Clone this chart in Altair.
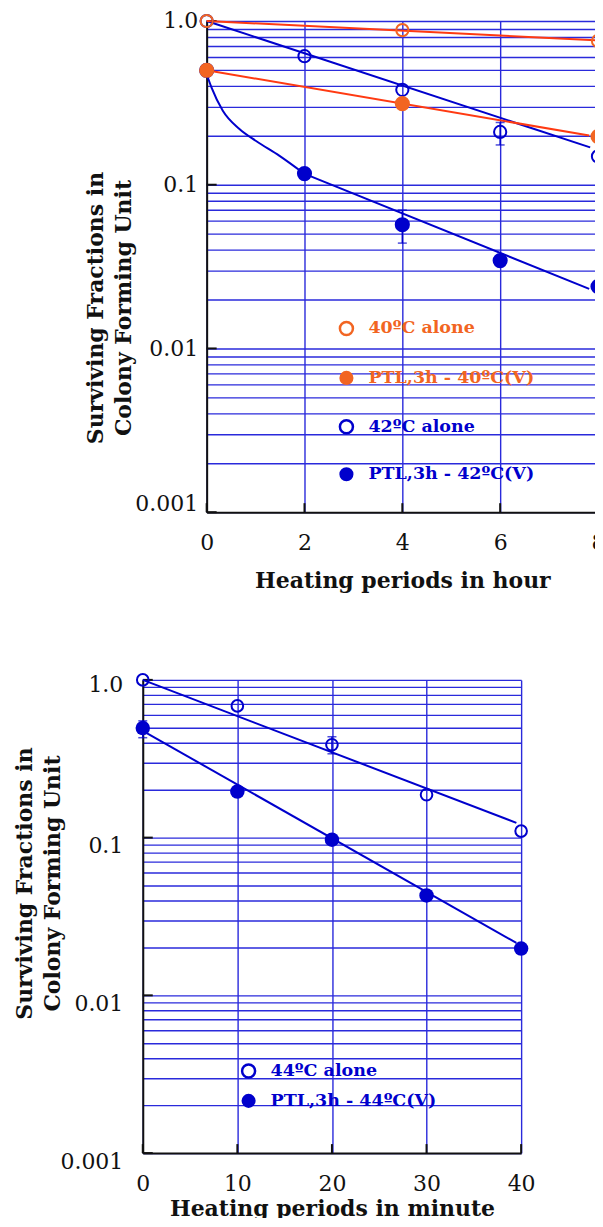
import altair as alt
import pandas as pd

FONT = "DejaVu Serif"
ORANGE = "#F26522"
ORANGE_LINE = "#FF3A12"
BLUE = "#0000CC"
GRID = "#2A2ADB"
BLACK = "#111111"

# ---------------- top panel data (hours) ----------------
top_x_40 = [0, 4, 8]
top_y_40_alone = [1.0, 0.88, 0.755]
top_y_40_ptl = [0.5, 0.313, 0.197]
top_x_42 = [0, 2, 4, 6, 8]
top_y_42_alone = [1.0, 0.61, 0.38, 0.21, 0.149]
top_y_42_ptl = [0.5, 0.117, 0.057, 0.0344, 0.0239]
top_err_x = [6, 4]
top_err_lo = [0.175, 0.044]
top_err_hi = [0.24, 0.070]

fit40_alone_x = [0, 7.96]
fit40_alone_y = [1.0, 0.763]
fit40_ptl_x = [0, 7.82]
fit40_ptl_y = [0.5, 0.2]
fit42_alone_x = [0, 7.84]
fit42_alone_y = [1.0, 0.169]
fit42_ptl_curve_x = [0, 0.1, 0.33, 0.67, 1.01, 1.49, 1.99]
fit42_ptl_curve_y = [0.473, 0.392, 0.283, 0.219, 0.185, 0.150, 0.117]
fit42_ptl_line_x = [1.99, 7.82]
fit42_ptl_line_y = [0.117, 0.0231]

top_x_ticks = [0, 2, 4, 6, 8]
top_labels = ["40ºC alone", "PTL,3h - 40ºC(V)", "42ºC alone", "PTL,3h - 42ºC(V)"]
top_label_colors = [ORANGE, ORANGE, BLUE, BLUE]
top_label_filled = [False, True, False, True]

# ---------------- bottom panel data (minutes) ----------------
bot_x = [0, 10, 20, 30, 40]
bot_y_alone = [1.0, 0.684, 0.388, 0.187, 0.11]
bot_y_ptl = [0.495, 0.196, 0.097, 0.043, 0.0198]
bot_err_x = [20, 0]
bot_err_lo = [0.34, 0.43]
bot_err_hi = [0.436, 0.55]
fit44_alone_x = [0, 39.5]
fit44_alone_y = [1.0, 0.124]
fit44_ptl_x = [0, 39.5]
fit44_ptl_y = [0.475, 0.0215]
bot_x_ticks = [0, 10, 20, 30, 40]
bot_labels = ["44ºC alone", "PTL,3h - 44ºC(V)"]
bot_label_filled = [False, True]

decades = [0.001, 0.01, 0.1, 1.0]
grid_vals = [m * d for d in decades[:-1] for m in range(1, 10)] + [1.0]

Y_TITLE = ["Surviving Fractions in", "Colony Forming Unit"]
LABEL_EXPR = ("datum.value == 1 ? '1.0' : datum.value == 0.1 ? '0.1' : "
              "datum.value == 0.01 ? '0.01' : datum.value == 0.001 ? '0.001' : ''")


def y_axis(title_x, title_y, label_pad, offset_cond):
    return alt.Axis(
        values=grid_vals, labelExpr=LABEL_EXPR, labelOverlap=False,
        ticks=False, labelPadding=label_pad, labelFont=FONT, labelFontSize=22,
        labelColor=BLACK, labelOffset=offset_cond,
        grid=True, gridColor=GRID, gridWidth=1.4,
        domainColor=BLACK, domainWidth=2,
        title=Y_TITLE, titleFont=FONT, titleFontSize=22, titleFontWeight="bold",
        titleColor=BLACK, titleAngle=270, titleX=title_x, titleY=title_y,
        titleBaseline="middle", titleAlign="center", titleLineHeight=28,
    )


def x_axis(vals, title, label_pad, title_y):
    return alt.Axis(
        values=vals, format="d", ticks=False, labelPadding=label_pad,
        labelFont=FONT, labelFontSize=22, labelColor=BLACK, labelFlush=False,
        grid=True, gridColor=GRID, gridWidth=1.4,
        domainColor=BLACK, domainWidth=2,
        title=title, titleFont=FONT, titleFontSize=22, titleFontWeight="bold",
        titleColor=BLACK, titleY=title_y, titleBaseline="alphabetic",
    )


def df(x, y):
    return pd.DataFrame({"x": x, "y": y})


def build_panel(W, H, xdom, xticks, xtitle, xlab_pad, xtitle_y,
                ytitle_x, ytitle_y, ylab_pad, yoff):
    X = alt.X("x:Q", scale=alt.Scale(domain=xdom, nice=False, zero=False),
              axis=x_axis(xticks, xtitle, xlab_pad, xtitle_y))
    Y = alt.Y("y:Q", scale=alt.Scale(type="log", domain=[0.001, 1.0], nice=False),
              axis=y_axis(ytitle_x, ytitle_y, ylab_pad, yoff))
    yticks = alt.Chart(pd.DataFrame({"y": decades})).mark_rule(
        color=BLACK, strokeWidth=2).encode(y=Y, x=alt.value(0), x2=alt.value(10))
    xt = alt.Chart(pd.DataFrame({"x": xticks})).mark_rule(
        color=BLACK, strokeWidth=2).encode(x=X, y=alt.value(H), y2=alt.value(H - 9))
    return X, Y, [yticks, xt]


def line(X, Y, x, y, color, interp="linear"):
    return alt.Chart(df(x, y)).mark_line(color=color, strokeWidth=2, interpolate=interp).encode(x=X, y=Y)


def pts(X, Y, x, y, color, filled, size):
    if filled:
        m = alt.Chart(df(x, y)).mark_point(filled=True, shape="circle", color=color,
                                           size=size, opacity=1)
    else:
        m = alt.Chart(df(x, y)).mark_point(filled=False, shape="circle", color=color,
                                           size=size, strokeWidth=2, opacity=1)
    return m.encode(x=X, y=Y)


def errbars(X, Y, x, lo, hi, color):
    d = pd.DataFrame({"x": x, "y": lo, "y2": hi})
    rule = alt.Chart(d).mark_rule(color=color, strokeWidth=1.5).encode(
        x=X, y=Y, y2="y2:Q")
    t1 = alt.Chart(d).mark_tick(color=color, orient="horizontal", size=9,
                                thickness=1.5).encode(x=X, y=Y)
    d2 = pd.DataFrame({"x": x, "y": hi})
    t2 = alt.Chart(d2).mark_tick(color=color, orient="horizontal", size=9,
                                 thickness=1.5).encode(x=X, y=Y)
    return [rule, t1, t2]


def legend(entries, colors, filled, cx, tx, ys, size):
    layers = []
    for lab, col, fil, yy in zip(entries, colors, filled, ys):
        d = pd.DataFrame({"label": [lab]})
        if fil:
            p = alt.Chart(d).mark_point(filled=True, shape="circle", color=col,
                                        size=size, opacity=1)
        else:
            p = alt.Chart(d).mark_point(filled=False, shape="circle", color=col,
                                        size=size * 0.85, strokeWidth=2.5, opacity=1)
        layers.append(p.encode(x=alt.value(cx), y=alt.value(yy)))
        layers.append(alt.Chart(d).mark_text(
            align="left", baseline="middle", font=FONT, fontSize=17.5,
            fontWeight="bold", color=col).encode(
            x=alt.value(tx), y=alt.value(yy), text="label:N"))
    return layers


# ---------------- top panel ----------------
TW, TH = 392, 492
Xt, Yt, top_axes = build_panel(
    TW, TH, [0, 8], top_x_ticks, "Heating periods in hour", 20, 75,
    -111, 287, 9,
    alt.condition("datum.value == 0.001", alt.value(-9), alt.value(0)))

top_layers = top_axes + [
    line(Xt, Yt, fit42_alone_x, fit42_alone_y, BLUE),
    line(Xt, Yt, fit42_ptl_curve_x, fit42_ptl_curve_y, BLUE, "monotone"),
    line(Xt, Yt, fit42_ptl_line_x, fit42_ptl_line_y, BLUE),
    line(Xt, Yt, fit40_alone_x, fit40_alone_y, ORANGE_LINE),
    line(Xt, Yt, fit40_ptl_x, fit40_ptl_y, ORANGE_LINE),
] + errbars(Xt, Yt, top_err_x, top_err_lo, top_err_hi, BLUE) + [
    pts(Xt, Yt, top_x_42, top_y_42_alone, BLUE, False, 150),
    pts(Xt, Yt, top_x_42, top_y_42_ptl, BLUE, True, 230),
    pts(Xt, Yt, top_x_40, top_y_40_alone, ORANGE, False, 150),
    pts(Xt, Yt, top_x_40, top_y_40_ptl, ORANGE, True, 230),
] + legend(top_labels, top_label_colors, top_label_filled, 140, 162,
           [308, 357.5, 406.5, 454], 200)

top = alt.layer(*top_layers).properties(width=TW, height=TH)

# ---------------- bottom panel ----------------
BW, BH = 379, 474
Xb, Yb, bot_axes = build_panel(
    BW, BH, [0, 40], bot_x_ticks, "Heating periods in minute", 20, 63,
    -118, 203.5, 20,
    alt.condition("datum.value == 1", alt.value(5), alt.value(8)))

bot_layers = bot_axes + [
    line(Xb, Yb, fit44_alone_x, fit44_alone_y, BLUE),
    line(Xb, Yb, fit44_ptl_x, fit44_ptl_y, BLUE),
] + errbars(Xb, Yb, bot_err_x, bot_err_lo, bot_err_hi, BLUE) + [
    pts(Xb, Yb, bot_x, bot_y_alone, BLUE, False, 135),
    pts(Xb, Yb, bot_x, bot_y_ptl, BLUE, True, 210),
] + legend(bot_labels, [BLUE, BLUE], bot_label_filled, 106, 128,
           [391.7, 421.7], 200)

bottom = alt.layer(*bot_layers).properties(width=BW, height=BH)

spacer = alt.Chart(pd.DataFrame({"s": [0]})).mark_point(opacity=0).encode(
    x=alt.value(0), y=alt.value(0)).properties(width=64, height=TH)

chart = alt.vconcat(
    alt.hconcat(spacer, top, spacing=0, bounds="flush"),
    bottom, spacing=79,
).properties(
    padding={"left": 6, "top": 1, "right": -14, "bottom": -3},
    background="white",
).configure_view(stroke=None)

chart.save("out.html", embed_options={"renderer": "svg", "actions": False})
